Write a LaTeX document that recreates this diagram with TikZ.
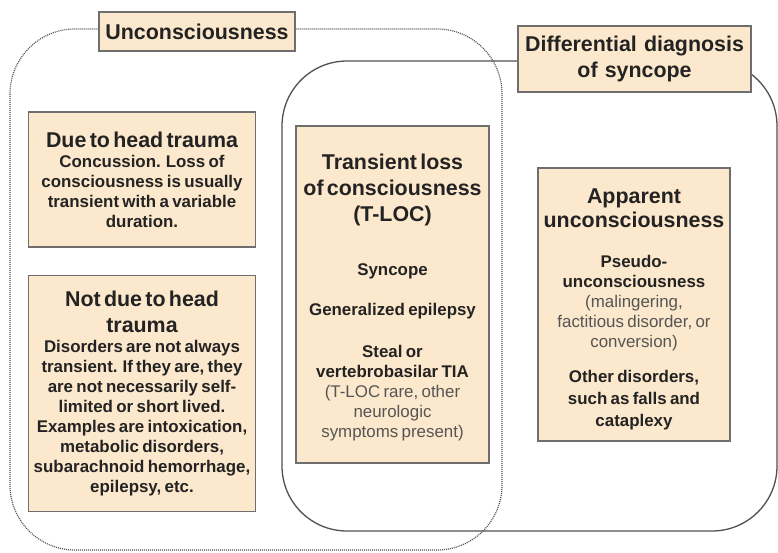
\documentclass[tikz,border=0pt]{standalone}
\usepackage{fontspec}
\setmainfont{Liberation Sans}
\usetikzlibrary{positioning}
\definecolor{boxfill}{RGB}{252,232,204}
\definecolor{boxline}{RGB}{110,110,110}
\definecolor{frameline}{RGB}{80,80,80}
\definecolor{maintext}{RGB}{35,35,35}
\definecolor{notetext}{RGB}{85,85,85}
\newcommand{\headfont}{\fontsize{21.4}{26}\selectfont\bfseries\color{maintext}}
\newcommand{\bodyfont}{\fontsize{16.9}{20}\selectfont\bfseries\color{maintext}}
\newcommand{\notefont}{\fontsize{16.9}{20}\selectfont\mdseries\color{notetext}}

\begin{document}
\begin{tikzpicture}[x=1pt,y=-1pt,
    infobox/.style={draw=boxline, line width=1.1pt, fill=boxfill, align=center, inner sep=2pt},
    titlebox/.style={infobox, font=\headfont},
    dotframe/.style={draw=frameline, line width=1.2pt, dash pattern=on 1pt off 1pt, rounded corners=65pt},
    solidframe/.style={draw=frameline, line width=1.3pt, rounded corners=65pt}]
    \useasboundingbox (0,0) rectangle (778,552);

    % Frames
    \draw[dotframe] (10,29) rectangle (502,550);
    \draw[solidframe] (282,61) rectangle (777,531);

    % Frame labels
    \node[titlebox, minimum width=196pt, minimum height=39pt] (uncon) at (197,31.5) {Unconsciousness};
    \node[titlebox, text width=229pt, minimum height=66pt] (diffdx) at (634.5,59)
        {Differential diagnosis\\of syncope\par};

    % Unconsciousness, left column
    \node[infobox, text width=223pt, minimum height=135pt] (headtrauma) at (142,179.5)
        {\headfont Due to head trauma\par
         \bodyfont Concussion. Loss of\\consciousness is usually\\transient with a variable\\duration.\par};
    \node[infobox, text width=223pt, minimum height=236pt, below=27pt of headtrauma] (noheadtrauma)
        {\headfont Not due to head\\trauma\par
         \bodyfont Disorders are not always\\transient. If they are, they\\are not necessarily self-\\limited or short lived.\\Examples are intoxication,\\metabolic disorders,\\subarachnoid hemorrhage,\\epilepsy, etc.\par};

    % Overlap of both frames
    \node[infobox, text width=189pt, minimum height=337pt] (tloc) at (392.5,294.5)
        {\headfont Transient loss\\of consciousness\\(T-LOC)\par\vspace{34pt}
         \bodyfont Syncope\par\vspace{20pt}
         Generalized epilepsy\par\vspace{22pt}
         Steal or\\vertebrobasilar TIA\par
         \notefont (T-LOC rare, other\\neurologic\\symptoms present)\par\vspace{-6pt}};

    % Differential diagnosis only
    \node[infobox, text width=188pt, minimum height=273pt] (apparent) at (634,304.5)
        {\fontsize{21.4}{24}\selectfont\bfseries\color{maintext}Apparent\\unconsciousness\par\vspace{20pt}
         \bodyfont Pseudo-\\unconsciousness\par
         \notefont (malingering,\\factitious disorder, or\\conversion)\par\vspace{13pt}
         \fontsize{16.9}{22}\selectfont\bfseries\color{maintext}Other disorders,\\such as falls and\\cataplexy\par\vspace{-10pt}};
\end{tikzpicture}
\end{document}
